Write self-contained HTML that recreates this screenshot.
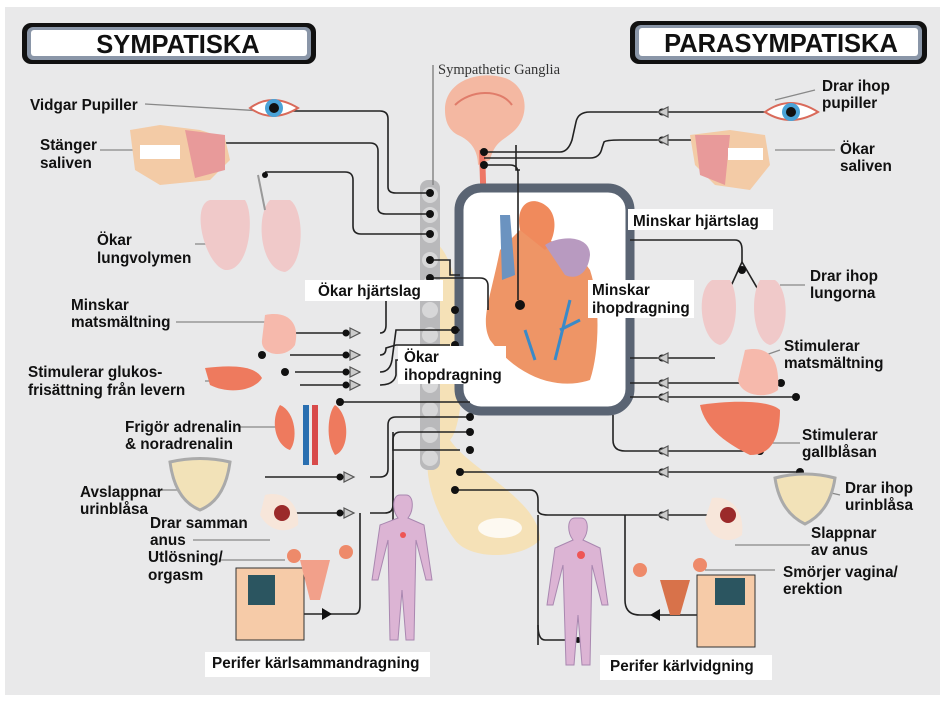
<!DOCTYPE html>
<html><head><meta charset="utf-8">
<style>
html,body{margin:0;padding:0;background:#fff;}
svg{display:block;}
text{font-family:"Liberation Sans",sans-serif;font-weight:bold;font-size:15.3px;fill:#111;}
</style></head>
<body>
<svg width="947" height="701" viewBox="0 0 947 701" xmlns="http://www.w3.org/2000/svg">
<rect x="5" y="7" width="935" height="688" fill="#e9e9ea"/>

<!-- Title boxes -->
<rect x="22" y="23" width="294" height="41" rx="9" fill="#111"/>
<rect x="27" y="27" width="284" height="33" rx="6" fill="#8a96a8"/>
<rect x="31" y="30" width="276" height="26" rx="3" fill="#fff"/>
<text x="178" y="53" text-anchor="middle" style="font-size:25.5px">SYMPATISKA</text>
<rect x="630" y="21" width="297" height="43" rx="9" fill="#111"/>
<rect x="635" y="25" width="287" height="35" rx="6" fill="#8a96a8"/>
<rect x="639" y="28" width="279" height="28" rx="3" fill="#fff"/>
<text x="781" y="52" text-anchor="middle" style="font-size:25.5px">PARASYMPATISKA</text>

<!-- spine (sacral/yellow) -->
<path d="M430 240 C470 250 470 420 450 440 C470 470 540 500 540 540 C520 560 470 560 455 540 C440 520 420 480 430 440 Z" fill="#f7deaa" opacity="0.8"/>
<ellipse cx="500" cy="528" rx="22" ry="10" fill="#fff" opacity="0.8"/>
<rect x="420" y="180" width="20" height="290" rx="8" fill="#b9b9bb"/>
<g fill="#d7d7d8">
<circle cx="430" cy="195" r="8"/><circle cx="430" cy="215" r="8"/><circle cx="430" cy="235" r="8"/><circle cx="430" cy="260" r="8"/><circle cx="430" cy="285" r="8"/><circle cx="430" cy="310" r="8"/><circle cx="430" cy="335" r="8"/><circle cx="430" cy="360" r="8"/><circle cx="430" cy="385" r="8"/><circle cx="430" cy="410" r="8"/><circle cx="430" cy="435" r="8"/><circle cx="430" cy="458" r="8"/>
</g>
<line x1="433" y1="65" x2="433" y2="185" stroke="#888" stroke-width="1.5"/>
<text x="438" y="74" style="font-family:'Liberation Serif',serif;font-weight:normal;font-size:14.5px;fill:#333">Sympathetic Ganglia</text>

<!-- brain -->
<path d="M445 110 C445 80 480 70 505 78 C528 86 530 115 515 130 C505 140 495 140 490 160 L478 165 C478 150 470 140 458 135 C448 130 445 120 445 110 Z" fill="#f4b8a2"/>
<path d="M455 105 C470 90 500 88 512 105" stroke="#e07c6a" stroke-width="2" fill="none"/>
<path d="M482 150 L485 245" stroke="#ee7766" stroke-width="6"/>

<!-- Heart box -->
<rect x="459" y="188" width="171" height="223" rx="22" fill="#fff" stroke="#5a6473" stroke-width="9"/>
<path d="M500 250 C490 300 480 320 490 340 C520 380 560 390 590 380 C600 350 600 300 590 270 C570 240 540 240 520 230 Z" fill="#ee9566"/>
<path d="M520 230 C515 205 530 195 545 205 C560 215 555 240 545 250 Z" fill="#f08a5c"/>
<path d="M545 245 C560 235 590 235 590 255 C588 275 575 280 565 275" fill="#b89ac0"/>
<path d="M500 215 L510 215 L515 275 L502 280 Z" fill="#6b93c0"/>
<path d="M570 300 L555 360 M560 330 L580 320 M525 330 L535 360" stroke="#3a8ac8" stroke-width="3" fill="none"/>

<!-- connectors -->
<g stroke="#222" stroke-width="1.6" fill="none">
<path d="M270 111 L380 111 Q388 111 388 119 L388 187 Q388 193 396 193 L430 193"/>
<path d="M200 143 L370 143 Q378 143 378 151 L378 208 Q378 214 386 214 L430 214"/>
<path d="M265 172 L345 172 Q353 172 353 180 L353 226 Q353 234 361 234 L430 234"/>
<path d="M430 260 L450 260 L450 275 L460 275"/>
<path d="M430 278 L480 278 Q488 278 488 286 L488 310"/>
<path d="M285 333 L360 333"/>
<path d="M290 355 L360 355"/>
<path d="M295 372 L360 372"/>
<path d="M300 385 L360 385"/>
<path d="M338 402 L470 402"/>
<path d="M265 477 L350 477"/>
<path d="M280 513 L350 513"/>
<path d="M265 614 L330 614 L355 614 Q360 614 360 605 L360 513"/>
<path d="M380 333 Q386 333 386 325 L386 300"/>
<path d="M380 355 Q386 355 386 348 L396 345 L450 345"/>
<path d="M380 372 Q390 372 392 360 L396 330 L460 330"/>
<path d="M380 385 Q394 385 396 375 L396 360 L460 360"/>
<path d="M370 477 L380 477 Q388 477 388 469 L388 425 Q388 417 396 417 L470 417"/>
<path d="M370 513 L385 513 Q393 513 393 505 L393 440 Q393 432 401 432 L470 432"/>
<path d="M393 432 L393 450 L460 450"/>
<path d="M393 460 L393 530"/>
<path d="M516 145 L516 170 L520 170"/>
<path d="M484 165 L510 165 Q518 165 518 173 L518 300"/>
<path d="M484 152 L560 152 Q568 152 572 140 L576 122 Q578 112 590 112 L800 112"/>
<path d="M484 158 L590 158 Q600 158 602 148 L604 142 Q606 140 620 140 L750 140"/>
<path d="M630 240 L735 240 Q742 240 742 250 L742 262"/>
<path d="M742 262 L720 310 M742 262 L770 310"/>
<path d="M630 358 L715 358"/>
<path d="M630 383 L780 383"/>
<path d="M630 397 L795 397"/>
<path d="M613 415 L613 440 Q613 451 625 451 L760 451"/>
<path d="M460 472 L800 472"/>
<path d="M455 490 L530 490 Q538 490 538 500 L538 510 Q538 515 548 515 L730 515"/>
<path d="M538 515 L538 645"/>
<path d="M625 515 L625 600 Q625 615 640 615 L745 615"/>
<path d="M538 625 Q538 640 545 640 L578 640"/>
</g>
<g stroke="#888" stroke-width="1.3" fill="none">
<path d="M145 104 L262 111"/>
<path d="M100 150 L180 150"/>
<path d="M195 244 L230 244"/>
<path d="M176 322 L270 322"/>
<path d="M205 381 L230 381"/>
<path d="M240 427 L280 427"/>
<path d="M153 490 L180 490"/>
<path d="M193 540 L270 540"/>
<path d="M220 560 L285 560"/>
<path d="M775 100 L815 90"/>
<path d="M775 150 L835 150"/>
<path d="M780 285 L805 285"/>
<path d="M760 357 L780 350"/>
<path d="M770 443 L800 443"/>
<path d="M805 487 L840 495"/>
<path d="M735 545 L810 545"/>
<path d="M705 570 L775 570"/>
</g>
<g fill="#111">
<circle cx="430" cy="193" r="4"/><circle cx="430" cy="214" r="4"/><circle cx="430" cy="234" r="4"/>
<circle cx="430" cy="260" r="4"/><circle cx="430" cy="278" r="4"/>
<circle cx="455" cy="310" r="4"/><circle cx="455" cy="330" r="4"/><circle cx="455" cy="345" r="4"/>
<circle cx="520" cy="305" r="5"/>
<circle cx="270" cy="111" r="5"/><circle cx="190" cy="143" r="4"/><circle cx="265" cy="175" r="3"/>
<circle cx="285" cy="333" r="4"/><circle cx="262" cy="355" r="4"/><circle cx="285" cy="372" r="4"/>
<circle cx="346" cy="333" r="3.5"/><circle cx="346" cy="355" r="3.5"/><circle cx="346" cy="372" r="3.5"/><circle cx="346" cy="385" r="3.5"/>
<circle cx="340" cy="402" r="4"/><circle cx="200" cy="477" r="4"/><circle cx="280" cy="513" r="5"/>
<circle cx="340" cy="477" r="3.5"/><circle cx="340" cy="513" r="3.5"/><circle cx="267" cy="614" r="3"/>
<circle cx="470" cy="417" r="4"/><circle cx="470" cy="432" r="4"/><circle cx="470" cy="450" r="4"/>
<circle cx="484" cy="152" r="4"/><circle cx="484" cy="165" r="4"/>
<circle cx="662" cy="112" r="3.5"/><circle cx="662" cy="140" r="3.5"/><circle cx="791" cy="112" r="5"/><circle cx="712" cy="140" r="4"/>
<circle cx="742" cy="270" r="4"/><circle cx="720" cy="315" r="4"/><circle cx="770" cy="315" r="4"/>
<circle cx="662" cy="358" r="3.5"/><circle cx="662" cy="383" r="3.5"/><circle cx="662" cy="397" r="3.5"/>
<circle cx="755" cy="358" r="4"/><circle cx="781" cy="383" r="4"/><circle cx="796" cy="397" r="4"/>
<circle cx="662" cy="451" r="3.5"/><circle cx="760" cy="451" r="4"/>
<circle cx="662" cy="472" r="3.5"/><circle cx="800" cy="472" r="4"/>
<circle cx="662" cy="515" r="3.5"/><circle cx="728" cy="515" r="5"/>
<circle cx="460" cy="472" r="4"/><circle cx="455" cy="490" r="4"/>
<circle cx="578" cy="640" r="3"/><circle cx="745" cy="615" r="3"/>
</g>
<g fill="#ccc" stroke="#555" stroke-width="1.2">
<path d="M350 328 L360 333 L350 338 Z"/><path d="M350 350 L360 355 L350 360 Z"/><path d="M350 367 L360 372 L350 377 Z"/><path d="M350 380 L360 385 L350 390 Z"/>
<path d="M344 472 L354 477 L344 482 Z"/><path d="M344 508 L354 513 L344 518 Z"/>
<path d="M668 107 L658 112 L668 117 Z"/><path d="M668 135 L658 140 L668 145 Z"/>
<path d="M668 353 L658 358 L668 363 Z"/><path d="M668 378 L658 383 L668 388 Z"/><path d="M668 392 L658 397 L668 402 Z"/>
<path d="M668 446 L658 451 L668 456 Z"/><path d="M668 467 L658 472 L668 477 Z"/><path d="M668 510 L658 515 L668 520 Z"/>
</g>
<path d="M322 608 L332 614 L322 620 Z" fill="#111"/>
<path d="M660 609 L650 615 L660 621 Z" fill="#111"/>

<!-- organs left -->
<path d="M250 108 Q272 92 298 108 Q272 124 250 108 Z" fill="#fff" stroke="#d96a5a" stroke-width="2"/>
<circle cx="274" cy="108" r="9" fill="#4aa3d8"/><circle cx="274" cy="108" r="5" fill="#111"/>
<path d="M130 130 L160 125 L200 130 L225 138 L230 160 L210 180 L160 185 L135 170 Z" fill="#f3cba6"/>
<path d="M185 130 L225 135 L225 170 L195 178 Z" fill="#e89a9a"/>
<rect x="140" y="145" width="40" height="14" fill="#fff"/>
<path d="M210 200 C190 205 205 265 225 270 C250 272 255 215 245 200 Z" fill="#f0c9c9"/>
<path d="M270 200 C255 215 260 270 285 272 C305 265 305 210 290 200 Z" fill="#f0c9c9"/>
<path d="M258 175 L265 210" stroke="#999" stroke-width="2"/>
<path d="M265 315 C290 310 300 325 295 345 C285 360 260 355 262 340 Z" fill="#f6b9ac"/>
<path d="M205 368 C230 365 255 365 262 378 C255 390 230 395 210 385 Z" fill="#ee7a5e"/>
<path d="M280 405 C270 420 275 445 290 450 C298 440 296 412 280 405 Z" fill="#ee7a5e"/>
<path d="M335 405 C350 415 350 450 335 455 C325 440 328 412 335 405 Z" fill="#ee7a5e"/>
<rect x="303" y="405" width="6" height="60" fill="#2a6fb0"/><rect x="312" y="405" width="6" height="60" fill="#d84a4a"/>
<path d="M170 462 Q200 455 230 462 Q225 500 200 510 Q175 500 170 462 Z" fill="#f2e2b8" stroke="#aaa" stroke-width="3"/>
<path d="M265 495 C285 490 300 505 298 525 C285 535 268 530 260 515 Z" fill="#f7e6da"/>
<circle cx="282" cy="513" r="8" fill="#9b2a2a"/>
<rect x="236" y="568" width="68" height="72" fill="#f6cba8" stroke="#333"/>
<path d="M248 575 L275 575 L275 605 L248 605 Z" fill="#2b5560"/>
<path d="M300 560 L330 560 L320 600 L310 600 Z" fill="#f2a08a"/><circle cx="294" cy="556" r="7" fill="#ee8a6a"/><circle cx="346" cy="552" r="7" fill="#ee8a6a"/>
<path d="M400 495 C392 495 392 510 398 518 L380 525 L372 580 L378 580 L388 540 L390 640 L398 640 L402 590 L406 640 L414 640 L416 540 L426 580 L432 580 L424 525 L408 518 C414 510 414 495 406 495 Z" fill="#dcb4d4" stroke="#a987b0"/>
<circle cx="403" cy="535" r="3" fill="#e55"/>

<!-- organs right -->
<path d="M765 112 Q790 94 818 112 Q790 128 765 112 Z" fill="#fff" stroke="#d96a5a" stroke-width="2"/>
<circle cx="791" cy="112" r="9" fill="#4aa3d8"/><circle cx="791" cy="112" r="5" fill="#111"/>
<path d="M690 135 L730 130 L765 135 L770 165 L750 190 L715 185 L695 165 Z" fill="#f3cba6"/>
<path d="M695 135 L730 135 L725 185 L700 175 Z" fill="#e89a9a"/>
<rect x="728" y="148" width="35" height="12" fill="#fff"/>
<path d="M712 280 C695 290 700 340 720 345 C738 340 740 295 730 280 Z" fill="#f0c9c9"/>
<path d="M760 280 C750 295 752 340 770 345 C790 340 790 290 775 280 Z" fill="#f0c9c9"/>
<path d="M745 350 C770 345 780 360 778 390 C765 400 740 395 738 380 Z" fill="#f6b9ac"/>
<path d="M700 405 C730 400 770 400 780 410 C780 440 770 455 750 455 C730 445 705 430 700 405 Z" fill="#ee7a5e"/>
<path d="M775 478 Q805 470 835 478 Q830 512 805 524 Q780 512 775 478 Z" fill="#f2e2b8" stroke="#aaa" stroke-width="3"/>
<path d="M712 498 C730 495 745 510 742 535 C730 545 710 540 705 520 Z" fill="#f7e6da"/>
<circle cx="728" cy="515" r="8" fill="#9b2a2a"/>
<rect x="697" y="575" width="58" height="72" fill="#f6cba8" stroke="#333"/>
<path d="M715 578 L745 578 L745 605 L715 605 Z" fill="#2b5560"/>
<path d="M660 580 L690 580 L680 615 L670 615 Z" fill="#d8724a"/><circle cx="640" cy="570" r="7" fill="#ee8a6a"/><circle cx="700" cy="565" r="7" fill="#ee8a6a"/>
<path d="M575 518 C567 518 567 532 573 540 L555 548 L547 605 L553 605 L563 565 L566 665 L574 665 L578 615 L582 665 L590 665 L592 565 L602 605 L608 605 L600 548 L583 540 C589 532 589 518 581 518 Z" fill="#dcb4d4" stroke="#a987b0"/>
<circle cx="581" cy="555" r="4" fill="#e55"/>

<!-- label backgrounds -->
<rect x="305" y="280" width="138" height="21" fill="#fff"/>
<rect x="398" y="346" width="108" height="38" fill="#fff"/>
<rect x="588" y="280" width="106" height="38" fill="#fff"/>
<rect x="628" y="209" width="145" height="21" fill="#fff"/>
<rect x="205" y="652" width="225" height="25" fill="#fff"/>
<rect x="600" y="655" width="172" height="25" fill="#fff"/>

<text x="30" y="110">Vidgar Pupiller</text>
<text x="40" y="150">Stänger</text><text x="40" y="168">saliven</text>
<text x="97" y="245">Ökar</text><text x="97" y="263">lungvolymen</text>
<text x="71" y="310">Minskar</text><text x="71" y="327">matsmältning</text>
<text x="28" y="377">Stimulerar glukos-</text><text x="28" y="395">frisättning från levern</text>
<text x="125" y="432">Frigör adrenalin</text><text x="125" y="449">&amp; noradrenalin</text>
<text x="80" y="497">Avslappnar</text><text x="80" y="514">urinblåsa</text>
<text x="150" y="528">Drar samman</text><text x="150" y="545">anus</text>
<text x="148" y="562">Utlösning/</text><text x="148" y="580">orgasm</text>
<text x="212" y="668">Perifer kärlsammandragning</text>
<text x="318" y="296">Ökar hjärtslag</text>
<text x="404" y="362">Ökar</text><text x="404" y="380">ihopdragning</text>
<text x="592" y="295">Minskar</text><text x="592" y="313">ihopdragning</text>
<text x="633" y="226">Minskar hjärtslag</text>
<text x="822" y="91">Drar ihop</text><text x="822" y="108">pupiller</text>
<text x="840" y="154">Ökar</text><text x="840" y="171">saliven</text>
<text x="810" y="281">Drar ihop</text><text x="810" y="298">lungorna</text>
<text x="784" y="351">Stimulerar</text><text x="784" y="368">matsmältning</text>
<text x="802" y="440">Stimulerar</text><text x="802" y="457">gallblåsan</text>
<text x="845" y="493">Drar ihop</text><text x="845" y="510">urinblåsa</text>
<text x="811" y="538">Slappnar</text><text x="811" y="555">av anus</text>
<text x="783" y="577">Smörjer vagina/</text><text x="783" y="594">erektion</text>
<text x="610" y="671">Perifer kärlvidgning</text>
</svg>
</body></html>
